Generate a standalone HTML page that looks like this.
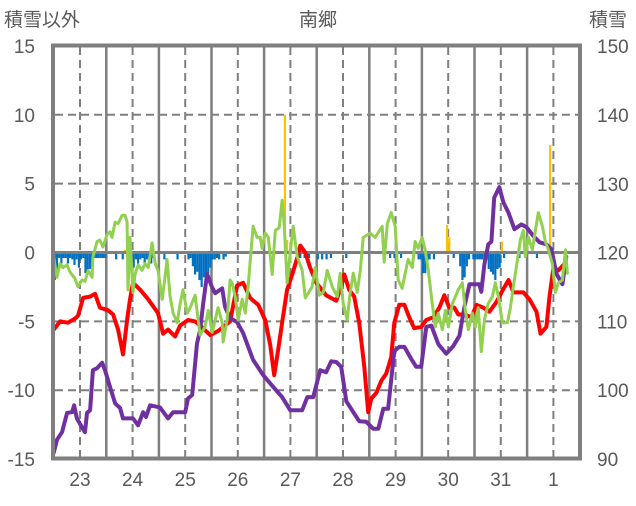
<!DOCTYPE html>
<html><head><meta charset="utf-8">
<style>
html,body{margin:0;padding:0;background:#fff;}
body{width:636px;height:501px;overflow:hidden;}
svg text{font-family:"Liberation Sans","Noto Sans CJK JP",sans-serif;fill:#595959;}
</style></head>
<body>
<svg id="chart" width="636" height="501" viewBox="0 0 636 501" xmlns="http://www.w3.org/2000/svg">
<text x="318" y="26" font-size="19" text-anchor="middle">南郷</text>
<text x="4" y="26" font-size="19">積雪以外</text>
<text x="589" y="26" font-size="19">積雪</text>
<g id="grid"></g>
<g id="bars"></g>
<g id="lines"></g>
<g id="axes"></g>
</svg>
<script>
const dayLabels=["23","24","25","26","27","28","29","30","31","1"];
const leftTicks=[15,10,5,0,-5,-10,-15];
const rightTicks=[150,140,130,120,110,100,90];
const redH=[0,2.9,6.5,9.7,11.1,13.4,16.6,18.9,21.1,24.8,27.1,29.4,31.6,33.5,34.8,36.2,39.4,43.1,47.6,49.9,52.2,55.4,57.7,61.3,64.5,66.8,71.4,75,80.5,83.7,86.4,89.6,93.3,96.5,98.8,100.6,102.4,104.3,106.5,108.8,111.1,112.5,114.8,117,119.8,124.3,128.9,131.2,132.6,134.8,137.1,139.4,141.7,143.5,144.9,147.2,149.5,151.7,154,155.4,157.7,160,162.2,164.5,167.7,170,173.2,176,178.2,180.5,182.8,184.6,187.4,190.6,192.9,196,198.8,202,204.3,207.5,209.8,214.3,217.1,220.3,222.1,224.8,226.2,228,230.3,232.6];
const redV=[-5.6,-5,-5.1,-4.8,-4.6,-3.3,-3.2,-3,-4,-4.2,-4.5,-5.6,-7.4,-4.9,-3.4,-2.2,-2.7,-3.4,-4.4,-5.9,-5.6,-6.1,-5.3,-4.9,-5,-5.3,-6,-5.7,-5,-2.4,-2.2,-3.3,-3.8,-4.9,-6.7,-8.9,-7.1,-5,-2.7,-1.6,-0.4,0.5,0,-1.1,-2.2,-3.1,-3.5,-2.5,-1.6,-2.7,-3.2,-5.1,-8.3,-11.6,-10.6,-10.2,-9.3,-8.8,-7.6,-5.1,-3.8,-3.8,-4.7,-5.5,-5.4,-4.9,-4.7,-4,-3.1,-4,-4,-4.5,-4.5,-4.7,-3.8,-4,-4.3,-3.6,-2.9,-2,-2.9,-2.9,-3.4,-4.3,-5.9,-5.4,-3.2,-1.1,-1.3,-0.9];
const purpleH=[0,1.5,3.8,6.1,8.4,9.3,10.6,12.9,14.3,15.2,16.6,17.9,19.8,22.1,23.4,25.7,28,30.3,31.6,36.2,38.5,40.8,42.1,44,48.5,52.2,54.5,60,61.3,63.2,65.4,66.8,68.2,70,72.3,73.7,76.9,78.2,80.5,83.7,86.4,91,95.6,100.1,104.2,107.9,113.4,115.7,118.4,121.6,124.3,126.6,128.9,131.2,133.5,136.7,139.4,142.6,145.8,148.1,150.4,152.6,155.4,157.7,160,163.2,165.4,167.7,170,172.3,175.5,179.1,182.3,185.1,187.4,189.7,194.2,195.1,196.5,198.3,199.7,201,203.3,205.2,207.5,210.2,213.4,215.7,218.9,221.7,224.8,227.1,229.4,232.1,233.9];
const purpleV=[90.9,92.8,93.9,96.7,96.8,97.8,95.9,94.6,93.9,96.7,97.1,102.9,103.2,104,102.9,100.5,98.1,97.4,95.9,95.9,94.9,96.8,96.1,97.8,97.5,95.9,96.8,96.8,98.8,99.3,106.8,108.7,112.6,116.9,114.9,114.1,114.8,112.1,110.5,109.9,108.3,104.4,102.2,100.5,99,97.1,97.1,99,99,102.9,102.6,104.2,104.1,103.4,98.4,96.8,95.5,95.4,94.4,94.4,97.3,97.3,105.7,106.3,106.3,104.5,103.4,103.4,109.2,109.4,106.7,105.3,106.4,107.9,112.1,115.4,115.4,114.3,118.3,121.2,121.6,128,129.5,127.3,125.8,123.4,124.1,123.7,122.4,121.5,121.2,120.5,116.9,115.4,119.4];
const greenH=[0,1.5,2.9,4.2,6.1,7.4,9.7,11.1,12.9,14.3,15.7,17.5,17.9,19.8,21.1,22.5,24.3,25.7,26.6,28,29.4,31.2,32.6,33.5,33.9,34.8,36.2,37.1,38.5,40.3,41.7,43.1,44.9,46.3,47.6,49.5,50.8,51.7,53.1,54.5,56.3,57.7,59,60.9,62.3,64.5,66.8,69.1,70.5,72.3,73.7,75,76.9,77.3,79.1,80.5,81.4,82.8,84.2,86,87.4,88.7,91,92.8,94.2,95.1,96.5,97.9,99.7,101.1,102.9,104.2,105.2,106.5,107.9,109.3,111.1,113.4,114.8,117.9,119.3,121.2,123,124.8,127.1,129.4,130.7,132.1,133.9,135.3,136.7,138.5,139.9,141.2,144.4,146.7,149.9,150.8,152.2,154,155.8,157.2,159,160.4,161.7,163.6,164.9,166.3,168.1,169.5,170.9,172.7,174.1,175.5,177.3,178.7,180.1,181.9,183.3,184.6,186.5,187.8,189.2,191,192.4,193.7,195.1,196.5,198.3,200.1,201.5,202.9,204.7,207,208.4,209.7,211.6,212.9,214.3,215.2,216.6,218.4,219.8,221.1,223,224.3,225.7,227.5,228.9,230.3,232.1,233.5,234.4];
const greenV=[-0.4,-1.8,-0.8,-1.1,-0.9,-1.4,-1.9,-2.5,-2,-2.1,-1.3,-1.8,-0.3,0.8,0.9,0.4,1.3,1.5,1.1,2.2,2.1,2.7,2.7,2.2,-2.7,1.1,-2.9,-1.6,-0.9,-1.3,-0.8,-1.1,0.7,-0.8,-1.3,-3.4,-1.8,-0.5,-3.2,-4.4,-5.1,-3.7,-2.7,-4.4,-4,-3.1,-6,-5.4,-4.2,-5.8,-4.9,-4,-5.1,-6.5,-4.9,-2,-2.2,-3.2,-4.9,-3.4,-4.4,-2.5,1.9,1.1,1.1,0.3,1.4,1.1,-1.6,1.6,1.8,3.8,1.9,-2.2,0,1.9,-0.3,-1.3,-3.3,-2.5,-1.1,-3.1,-2.9,-1.3,-2.5,-3.2,-1.5,-3.7,-4.9,-2.9,-1.5,-2.9,-1.3,1.1,1.4,1.1,1.9,-0.7,2.1,2.9,1.9,-2,-2.6,-1.5,-0.5,-1.1,0.8,0.3,1.1,0.2,-1.3,-3.7,-5.4,-4.4,-5.6,-4.2,-5.4,-3.7,-3.2,-2.7,-2.2,-4.2,-5.6,-4.4,-5.4,-4,-7.2,-4.9,-3.7,-3.2,-2.2,-3.2,-5.1,-5.1,-4,-2.5,-0.5,0.9,1.6,-0.3,1.1,0.2,1.6,2.9,1.9,0.8,0.2,-0.8,-2.9,-2.2,-2,0.2,-1.5];
const blueH=[0,1,2,3,4,5,6,7,8,9,10,11,12,13,14,15,16,17,18,19,20,21,22,23,28,31,35,36,37,38,39,40,41,42,43,44,45,50,56,61,62,63,64,65,66,67,68,69,70,71,72,73,74,75,77,78,112,114,116,120,122,124,126,133,153,155,158,166,167,168,169,170,171,173,182,185,186,187,188,189,191,192,193,194,195,196,197,198,199,200,201,202,203,205,212,220];
const blueV=[-2,-1.6,-0.4,-0.8,-0.4,-0.4,-0.8,-0.4,-0.5,-0.9,-0.5,-1.1,-0.5,-0.4,-1.5,-1.5,-1.2,-1.5,-0.4,-0.4,-0.4,-0.4,-0.4,-0.4,-0.5,-0.5,-0.5,-1.1,-0.5,-0.8,-0.5,-0.4,-1,-0.5,-0.4,-0.8,-0.4,-0.5,-0.5,-0.5,-0.4,-1,-1.6,-1.4,-2,-2.5,-1.8,-2.4,-1.5,-1.1,-0.5,-0.5,-0.4,-0.5,-0.5,-0.3,-0.4,-0.4,-0.4,-0.5,-0.5,-0.5,-0.4,-0.4,-0.4,-0.4,-0.4,-0.5,-0.5,-1.5,-1.5,-0.6,-0.5,-0.5,-0.4,-1,-2,-1.8,-1,-0.5,-0.5,-0.5,-0.5,-0.5,-0.5,-0.5,-0.5,-1.2,-1.4,-1.6,-2,-1.2,-1.1,-0.4,-0.4,-0.4];
const orangeH=[32,105,106,179,180,204,225,226];
const orangeV=[0.2,10,0.9,2,1.1,0.8,0.4,7.8];

const NS="http://www.w3.org/2000/svg";
const X0=53.7,PXH=52.6/24;
function xH(h){return X0+h*PXH;}
function yL(v){return 252.5-v*13.77;}
function yR(s){return 459-(s-90)*6.88;}
function mk(tag,parent,attrs){const e=document.createElementNS(NS,tag);for(const k in attrs)e.setAttribute(k,attrs[k]);parent.appendChild(e);return e;}
const grid=document.getElementById('grid'),bars=document.getElementById('bars'),lines=document.getElementById('lines'),axes=document.getElementById('axes');
// horizontal gridlines
leftTicks.forEach(function(v){
  if(v===15||v===-15||v===0)return;
  const l=mk('line',grid,{x1:55,x2:579,y1:yL(v),y2:yL(v),stroke:'#7f7f7f','stroke-width':2,'stroke-dasharray':'8,5'});
  
  
});
// vertical gridlines
for(let d=0;d<dayLabels.length;d++){
  const xm=xH(d*24+12);
  const l=mk('line',grid,{x1:xm,x2:xm,y1:47,y2:458,stroke:'#7f7f7f','stroke-width':2,'stroke-dasharray':'8,5'});
  
  
  if(d>0){
    const xs=xH(d*24);
    const s=mk('line',grid,{x1:xs,x2:xs,y1:47,y2:458,stroke:'#7f7f7f','stroke-width':2.5});
    
    
  }
  const t=mk('text',axes,{x:xm,y:486,'font-size':19,'text-anchor':'middle'});
  t.textContent=dayLabels[d];
  
  
}
// zero line
const z=mk('line',grid,{x1:55,x2:579,y1:yL(0),y2:yL(0),stroke:'#7f7f7f','stroke-width':3});


// bars
const bw=PXH;
blueH.forEach(function(h,i){
  const y=yL(0)+1.5,y2=yL(blueV[i]);
  const r=mk('rect',bars,{x:xH(h),y:y,width:bw,height:Math.max(0,y2-y),fill:'#0070c0'});
  
  
});
orangeH.forEach(function(h,i){
  const y=yL(orangeV[i]),y0=yL(0)-1.5;
  const r=mk('rect',bars,{x:xH(h),y:y,width:bw,height:Math.max(0,y0-y),fill:'#ffc000'});
  
  
});
function poly(H,V,fy,color,w,name){
  const pts=H.map(function(h,i){return xH(h).toFixed(1)+','+fy(V[i]).toFixed(1);}).join(' ');
  const p=mk('polyline',lines,{points:pts,fill:'none',stroke:color,'stroke-width':w,'stroke-linejoin':'round','stroke-linecap':'round'});
  
  
}
poly(redH,redV,yL,'#ff0000',4,'red-series-line');
poly(purpleH,purpleV,yR,'#7030a0',4,'purple-snow-depth-line');
poly(greenH,greenV,yL,'#92d050',3,'green-series-line');
// frame
const f=mk('rect',axes,{x:53,y:45.5,width:527,height:413,fill:'none',stroke:'#7f7f7f','stroke-width':4});


leftTicks.forEach(function(v){
  const t=mk('text',axes,{x:35,y:yL(v)+7,'font-size':19,'text-anchor':'end'});
  t.textContent=String(v);
  
  
});
rightTicks.forEach(function(s){
  const t=mk('text',axes,{x:597,y:yR(s)+7,'font-size':19});
  t.textContent=String(s);
  
  
});
</script>
</body></html>
